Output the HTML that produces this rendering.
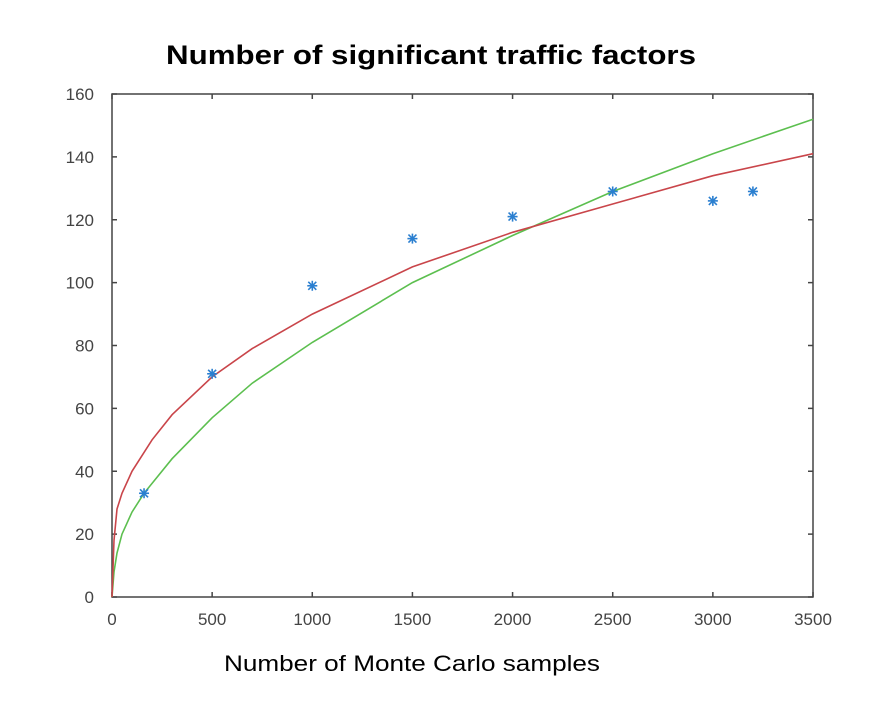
<!DOCTYPE html>
<html><head><meta charset="utf-8"><style>
body{margin:0;background:#fff;}
svg text{font-family:"Liberation Sans",sans-serif;}
</style></head><body>
<svg width="894" height="723" xmlns="http://www.w3.org/2000/svg">
<text x="431" y="64" text-anchor="middle" font-size="27" font-weight="bold" fill="#000" textLength="530" lengthAdjust="spacingAndGlyphs">Number of significant traffic factors</text>
<text x="412" y="671" text-anchor="middle" font-size="22" fill="#000" textLength="376" lengthAdjust="spacingAndGlyphs">Number of Monte Carlo samples</text>
<rect x="112" y="94" width="701" height="503" fill="none" stroke="#444" stroke-width="1.5"/>
<g id="axes"></g>
<g id="series"></g>
</svg>
<script>
const xTicks=[0,500,1000,1500,2000,2500,3000,3500];
const yTicks=[0,20,40,60,80,100,120,140,160];
const redX=[0,10,25,50,100,200,300,500,700,1000,1500,2000,2500,3000,3500];
const redY=[0,18,28,33,40,50,58,70,79,90,105,116,125,134,141];
const greenX=[0,10,25,50,100,160,300,500,700,1000,1500,2000,2500,3000,3500];
const greenY=[0,8,14,20,27,33,44,57,68,81,100,115,129,141,152];
const ptX=[160,500,1000,1500,2000,2500,3000,3200];
const ptY=[33,71,99,114,121,129,126,129];
const X0=112,X1=813,Y0=597,Y1=94;
const sx=v=>X0+v/3500*(X1-X0), sy=v=>Y0-v/160*(Y0-Y1);
const NS="http://www.w3.org/2000/svg";
const axes=document.getElementById('axes'), ser=document.getElementById('series');
function mk(tag,attrs,parent){const e=document.createElementNS(NS,tag);for(const k in attrs)e.setAttribute(k,attrs[k]);parent.appendChild(e);return e;}
xTicks.forEach(v=>{
 const t=mk('line',{x1:sx(v),x2:sx(v),y1:Y0,y2:Y0-5,stroke:'#444','stroke-width':1.5},axes);
 
 
 const t2=mk('line',{x1:sx(v),x2:sx(v),y1:Y1,y2:Y1+5,stroke:'#444','stroke-width':1.5},axes);
 
 
 const l=mk('text',{x:sx(v),y:Y0+28,'text-anchor':'middle','font-size':17,fill:'#444'},axes);
 l.textContent=v;
 
 
});
yTicks.forEach(v=>{
 const t=mk('line',{x1:X0,x2:X0+5,y1:sy(v),y2:sy(v),stroke:'#444','stroke-width':1.5},axes);
 
 
 const t2=mk('line',{x1:X1,x2:X1-5,y1:sy(v),y2:sy(v),stroke:'#444','stroke-width':1.5},axes);
 
 
 const l=mk('text',{x:X0-18,y:sy(v)+6,'text-anchor':'end','font-size':17,fill:'#444'},axes);
 l.textContent=v;
 
 
});
function line(xs,ys,color,name){
 const d=xs.map((x,i)=>(i?'L':'M')+sx(x).toFixed(1)+','+sy(ys[i]).toFixed(1)).join(' ');
 const p=mk('path',{d:d,fill:'none',stroke:color,'stroke-width':1.6},ser);
 
 
}
line(greenX,greenY,'#5cbf4f','green-curve');
line(redX,redY,'#c9454a','red-curve');
ptX.forEach((x,i)=>{
 const cx=sx(x),cy=sy(ptY[i]);
 const g=mk('g',{stroke:'#2b7fd0','stroke-width':1.6},ser);
 
 
 mk('line',{x1:cx-5,x2:cx+5,y1:cy,y2:cy},g);
 mk('line',{x1:cx,x2:cx,y1:cy-5,y2:cy+5},g);
 mk('line',{x1:cx-4,x2:cx+4,y1:cy-4,y2:cy+4},g);
 mk('line',{x1:cx-4,x2:cx+4,y1:cy+4,y2:cy-4},g);
});
</script>
</body></html>
